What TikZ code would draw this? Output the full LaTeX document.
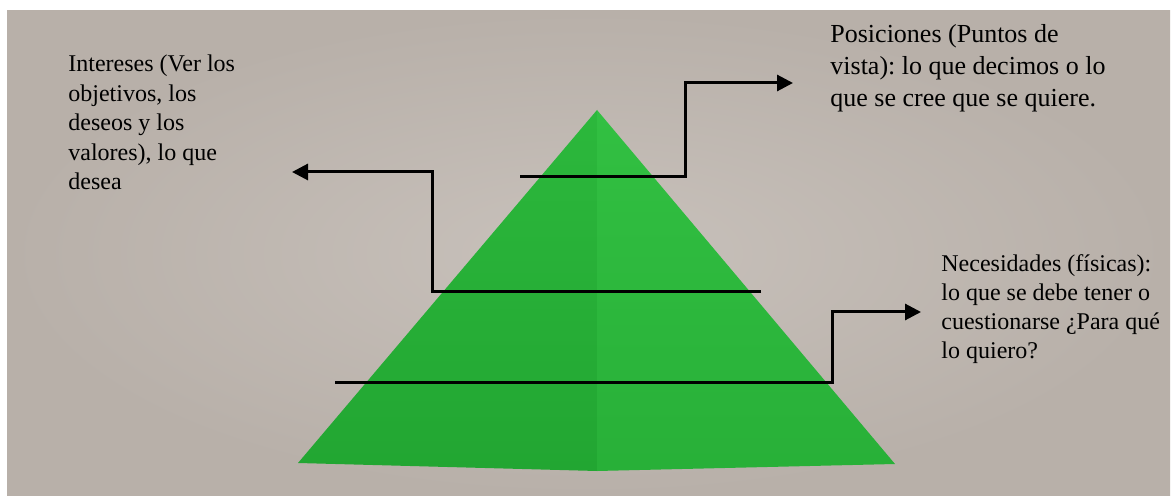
\documentclass[tikz,border=0pt]{standalone}
\usepackage{fontspec}
\setmainfont{Liberation Serif}
\frenchspacing
\usetikzlibrary{arrows.meta}
\definecolor{bgwarm}{RGB}{200,193,187}
\definecolor{bgedge}{RGB}{184,176,169}
\definecolor{pyrlefttop}{RGB}{44,184,60}
\definecolor{pyrleftbot}{RGB}{34,166,50}
\definecolor{pyrrighttop}{RGB}{50,192,66}
\definecolor{pyrrightbot}{RGB}{40,176,56}
\tikzset{
    lbltxt/.style={anchor=base west, align=left, inner sep=0pt, text=black, font=\fontsize{12}{14.75}\selectfont},
    lbltxt_big/.style={lbltxt, font=\fontsize{13}{16}\selectfont},
    arr_lvl/.style={-{Triangle[length=8pt, width=8pt]}, line width=1.5pt, color=black},
    face/.style={draw=none}
}
\begin{document}
\begin{tikzpicture}[x=0.5pt, y=-0.5pt]
    \useasboundingbox (0,0) rectangle (1171,496);
    \fill[white] (0,0) rectangle (1171,496);
    \shade[inner color=bgwarm, outer color=bgedge] (7,11) rectangle (1170,496);
    % pyramid faces
    \coordinate (apex) at (597,110);
    \coordinate (bl) at (298,463);
    \coordinate (bc) at (597,471);
    \coordinate (br) at (895,464);
    \shade[face, top color=pyrlefttop, bottom color=pyrleftbot] (apex) -- (bl) -- (bc) -- cycle;
    \shade[face, top color=pyrrighttop, bottom color=pyrrightbot] (apex) -- (bc) -- (br) -- cycle;
    % texts (placed on the baseline of their last line)
    \node[lbltxt_big] at (830,107) (posic) {Posiciones (Puntos de\\vista): lo que decimos o lo\\que se cree que se quiere.};
    \node[lbltxt] at (68,190) (inter) {Intereses (Ver los\\objetivos, los\\deseos y los\\valores), lo que\\desea};
    \node[lbltxt, font=\fontsize{12}{14.5}\selectfont] at (941,358) (neces) {Necesidades (físicas):\\lo que se debe tener o\\cuestionarse ¿Para qué\\lo quiero?};
    % level lines
    \coordinate (p1) at (520,177);
    \coordinate (p2) at (685,177);
    \coordinate (p3) at (793,83);
    \coordinate (i1) at (761,292);
    \coordinate (i2) at (432,292);
    \coordinate (i3) at (292,172);
    \coordinate (n1) at (335,382);
    \coordinate (n2) at (832,382);
    \coordinate (n3) at (921,312);
    \draw[arr_lvl] (p1) -- (p2) |- (p3);
    \draw[arr_lvl] (i1) -- (i2) |- (i3);
    \draw[arr_lvl] (n1) -- (n2) |- (n3);
\end{tikzpicture}
\end{document}
